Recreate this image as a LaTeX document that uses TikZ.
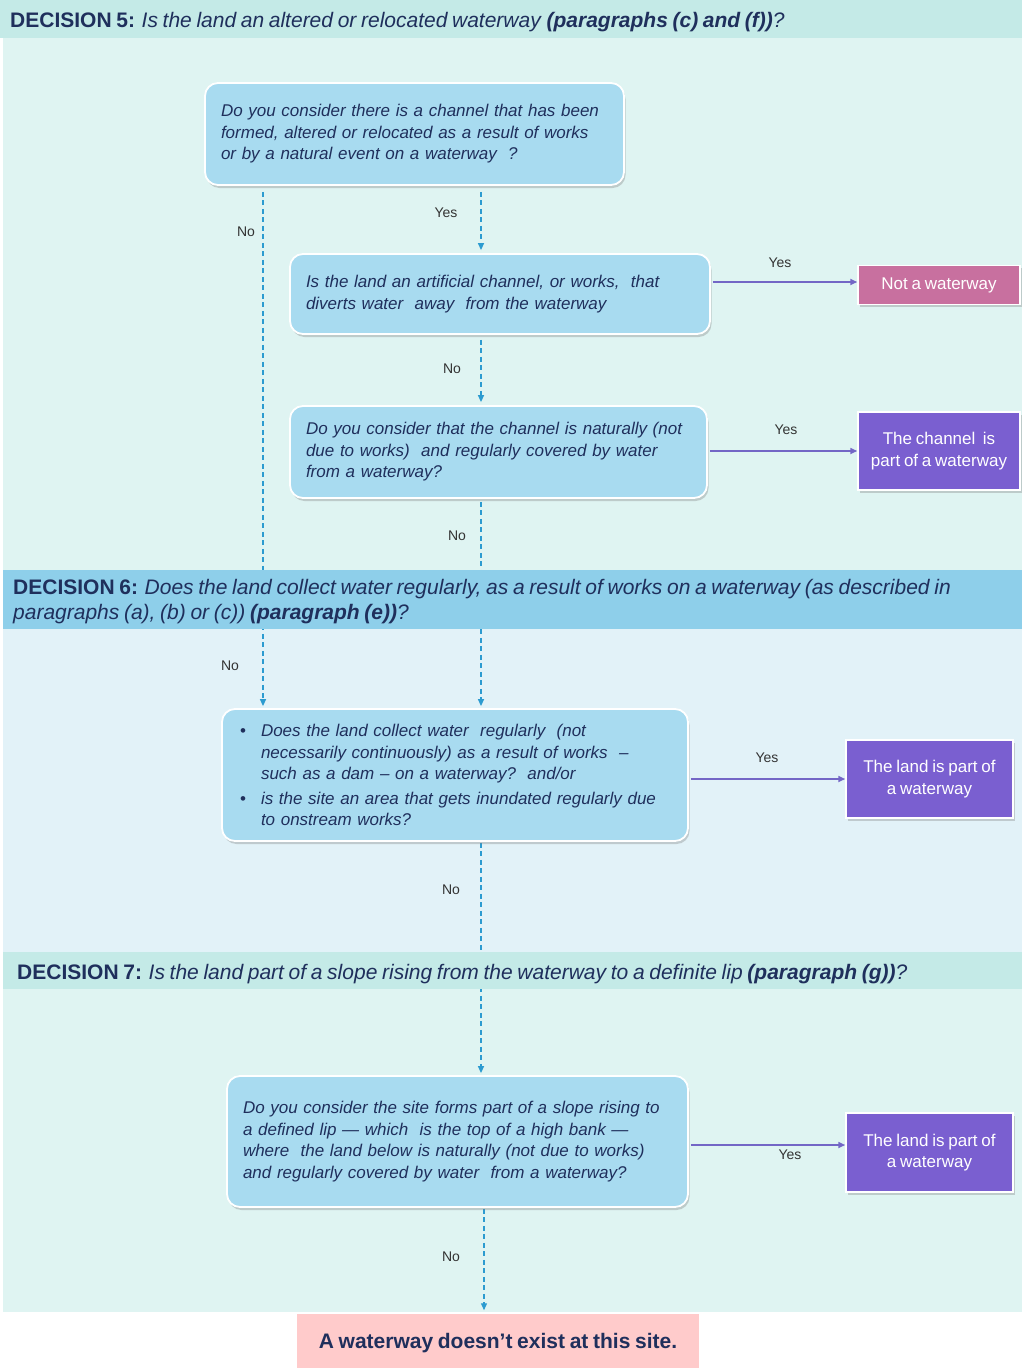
\documentclass[tikz,border=0pt]{standalone}
\usepackage{fontspec}
\setmainfont{Liberation Sans}
\newfontfamily\nf{Liberation Sans}[WordSpace=0.8]
\usetikzlibrary{shadows,arrows.meta}
\definecolor{hdrA}{HTML}{C4EAE7}
\definecolor{bgA}{HTML}{DFF4F2}
\definecolor{hdrB}{HTML}{8ECFEA}
\definecolor{bgB}{HTML}{E2F2F8}
\definecolor{qfill}{HTML}{A8DBF0}
\definecolor{navy}{HTML}{1F2F5C}
\definecolor{dashc}{HTML}{2C9BD0}
\definecolor{purpc}{HTML}{7366C6}
\definecolor{mauve}{HTML}{C8709F}
\definecolor{violet}{HTML}{7A5FD0}
\definecolor{pinkf}{HTML}{FFCBCB}
\definecolor{lbl}{HTML}{333333}
\pgfdeclarelayer{back}
\pgfdeclarelayer{mid}
\pgfsetlayers{back,mid,main}
\begin{document}
\begin{tikzpicture}[x=1pt,y=-1pt,
  hdr/.style={inner sep=0pt,text=navy,font=\nf\fontsize{21}{25}\selectfont,align=left},
  qbox/.style={rounded corners=13pt,fill=qfill,draw=white,line width=1.8pt,
    drop shadow={shadow xshift=1.5pt,shadow yshift=-3pt,opacity=0.35,fill=gray},
    text=navy,font=\nf\itshape\fontsize{17}{21.5}\selectfont,align=left,
    inner xsep=16pt,inner ysep=0pt},
  obox/.style={rectangle,draw=white,line width=1.5pt,
    drop shadow={shadow xshift=1.5pt,shadow yshift=-2.5pt,opacity=0.35,fill=gray},
    text=white,font=\nf\fontsize{17}{21.5}\selectfont,align=center,inner sep=2pt},
  lab/.style={text=lbl,font=\nf\fontsize{14}{16}\selectfont,inner sep=1pt},
  dashar/.style={draw=dashc,line width=1.3pt,dash pattern=on 5pt off 3.5pt,
    -{Triangle[length=7pt,width=6pt]}},
  purar/.style={draw=purpc,line width=1.6pt,-{Triangle[length=7pt,width=6pt]}}]
\useasboundingbox (0,0) rectangle (1022,1368);

% backgrounds
\begin{pgfonlayer}{back}
\fill[white] (0,0) rectangle (1022,1368);
\fill[bgA] (3,38) rectangle (1022,570);
\fill[bgB] (3,629) rectangle (1022,952);
\fill[bgA] (3,989) rectangle (1022,1312);
\end{pgfonlayer}

% header bars (on top of connectors)
\fill[hdrA] (0,0) rectangle (1022,38);
\fill[hdrB] (3,570) rectangle (1022,629);
\fill[hdrA] (3,952) rectangle (1022,989);

\node[hdr,anchor=base west] (h5) at (10,27)
  {\textbf{DECISION 5:} \textit{Is the land an altered or relocated waterway} \textbf{\textit{(paragraphs (c) and (f))}}\textit{?}};
\node[hdr,anchor=north west] (h6) at (13,579)
  {\textbf{DECISION 6:} \textit{Does the land collect water regularly, as a result of works on a waterway (as described in}\\
   \textit{paragraphs (a), (b) or (c))} \textbf{\textit{(paragraph (e))}}\textit{?}};
\node[hdr,anchor=base west] (h7) at (17,979)
  {\textbf{DECISION 7:} \textit{Is the land part of a slope rising from the waterway to a definite lip} \textbf{\textit{(paragraph (g))}}\textit{?}};

% question boxes
\node[qbox,minimum width=419pt,minimum height=102pt,text width=387pt] (q1) at (414.5,134)
  {Do you consider there is a channel that has been\\
   formed, altered or relocated as a result of works\\
   or by a natural event on a waterway\ \ ?};
\node[qbox,minimum width=420pt,minimum height=80pt,text width=388pt] (q2) at (500,294)
  {Is the land an artificial channel, or works,\ \ that\\
   diverts water\ \ away\ \ from the waterway};
\node[qbox,minimum width=417pt,minimum height=92pt,text width=385pt] (q3) at (498.5,452)
  {Do you consider that the channel is naturally (not\\
   due to works)\ \ and regularly covered by water\\
   from a waterway?};
\node[qbox,minimum width=466pt,minimum height=132pt,text width=430pt,inner xsep=18pt] (q4) at (455,775)
  {\makebox[21pt][l]{\upshape\textbullet}Does the land collect water\ \ regularly\ \ (not\\
   \hspace*{21pt}necessarily continuously) as a result of works\ \ –\\
   \hspace*{21pt}such as a dam – on a waterway?\ \ and/or\\[3pt]
   \makebox[21pt][l]{\upshape\textbullet}is the site an area that gets inundated regularly due\\
   \hspace*{21pt}to onstream works?};
\node[qbox,minimum width=461pt,minimum height=131pt,text width=429pt] (q5) at (457.5,1141.5)
  {Do you consider the site forms part of a slope rising to\\
   a defined lip — which\ \ is the top of a high bank —\\
   where\ \ the land below is naturally (not due to works)\\
   and regularly covered by water\ \ from a waterway?};

% outcome boxes
\node[obox,fill=mauve,minimum width=162pt,minimum height=39pt] (o1) at (939,285) {Not a waterway};
\node[obox,fill=violet,minimum width=162pt,minimum height=78pt] (o2) at (939,451) {The channel\ \ is\\part of a waterway};
\node[obox,fill=violet,minimum width=167pt,minimum height=78pt] (o3) at (929.5,779) {The land is part of\\a waterway};
\node[obox,fill=violet,minimum width=167pt,minimum height=79pt] (o4) at (929.5,1152.5) {The land is part of\\a waterway};

% final box
\node[rectangle,fill=pinkf,draw=white,line width=1.5pt,minimum width=404pt,minimum height=60pt,
  text=navy,font=\nf\bfseries\fontsize{21}{25}\selectfont] (fin) at (498,1343) {A waterway doesn’t exist at this site.};

% helper coordinates
\coordinate (mx) at (481,0);
\coordinate (lx) at (263,0);
\coordinate (fx) at (484,0);
\coordinate (ay) at (0,1145);
\coordinate (by) at (0,282);

% connectors
\begin{pgfonlayer}{mid}
\draw[dashar,shorten <=6pt,shorten >=3pt] (q1.south -| mx) -- (q2.north -| mx);
\draw[dashar,shorten <=6pt,shorten >=2pt] (q1.south -| lx) -- (q4.north -| lx);
\draw[dashar,shorten <=5pt,shorten >=3pt] (q2.south -| mx) -- (q3.north -| mx);
\draw[dashar,shorten <=3pt,shorten >=2pt] (q3.south -| mx) -- (q4.north -| mx);
\draw[dashar,shorten <=1pt,shorten >=2pt] (q4.south -| mx) -- (q5.north -| mx);
\draw[dashar,shorten <=1pt,shorten >=2pt] (q5.south -| fx) -- (fin.north -| fx);
\end{pgfonlayer}
\draw[purar,shorten <=2pt] (q2.east |- by) -- (o1.west |- by);
\draw[purar,shorten <=2pt] (q3.east |- o2.west) -- (o2.west);
\draw[purar,shorten <=2pt] (q4.east |- o3.west) -- (o3.west);
\draw[purar,shorten <=2pt] (q5.east |- ay) -- (o4.west |- ay);

% labels
\node[lab] (l1) at (446,213) {Yes};
\node[lab] (l2) at (246,232) {No};
\node[lab] (l3) at (452,369) {No};
\node[lab] (l4) at (457,536) {No};
\node[lab] (l5) at (230,666) {No};
\node[lab] (l6) at (451,890) {No};
\node[lab] (l7) at (451,1257) {No};
\node[lab] (y1) at (780,263) {Yes};
\node[lab] (y2) at (786,430) {Yes};
\node[lab] (y3) at (767,758) {Yes};
\node[lab] (y4) at (790,1155) {Yes};
\end{tikzpicture}
\end{document}
